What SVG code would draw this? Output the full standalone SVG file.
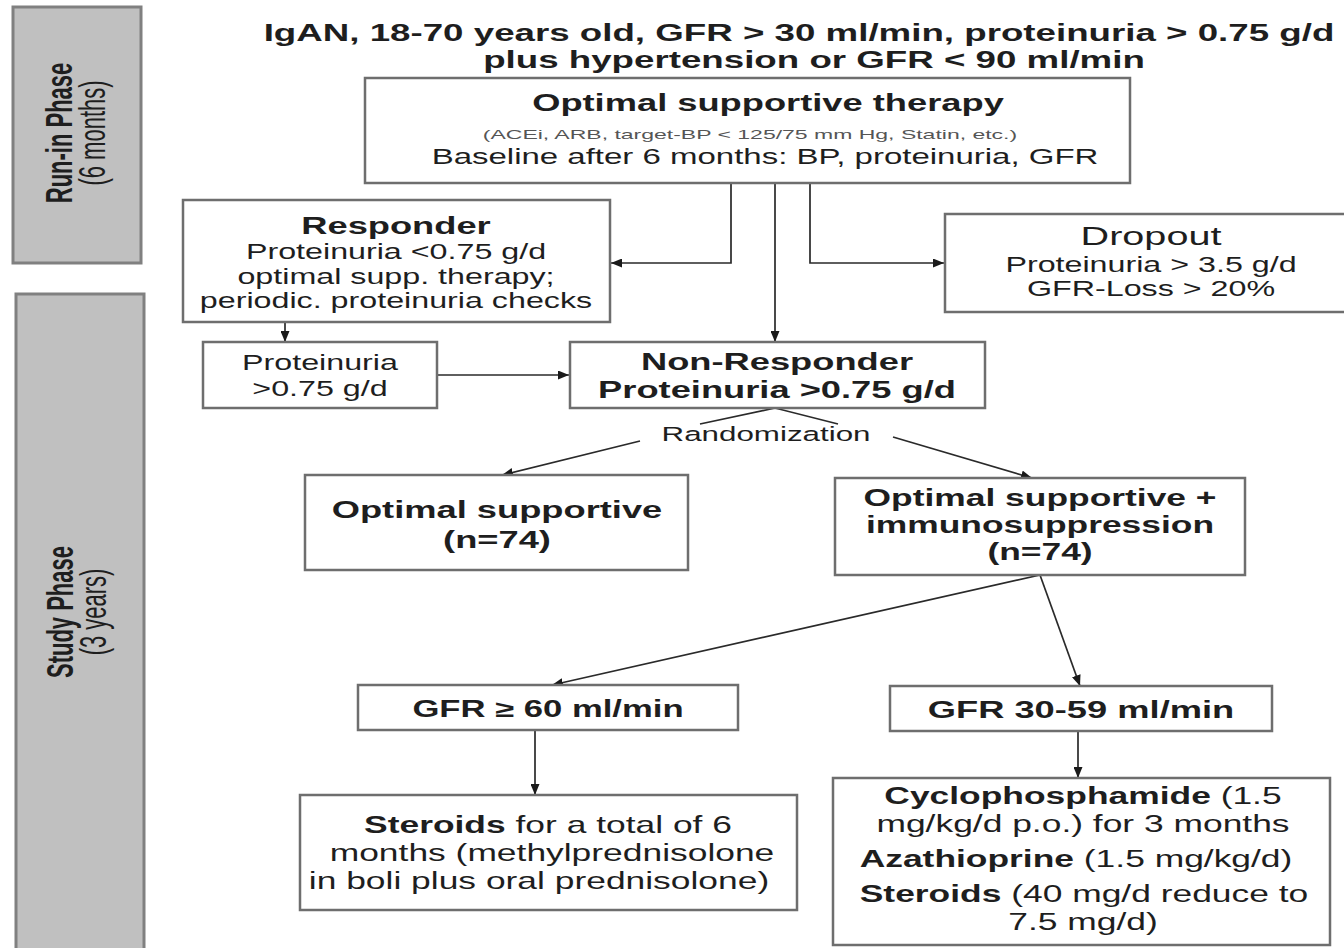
<svg xmlns="http://www.w3.org/2000/svg" width="1344" height="948" viewBox="0 0 1344 948">
<style>
.t{font-family:"Liberation Sans",Arial,sans-serif;text-anchor:middle;fill:#1e1e1e}
.b{font-weight:bold}
.s{fill:#555}
.box{fill:#fff;stroke:#6e6e6e;stroke-width:2.5}
.bar{fill:#c0c0c0;stroke:#808080;stroke-width:3}
.c{fill:none;stroke:#2a2a2a;stroke-width:1.7}
.a{marker-end:url(#ah)}
</style>
<defs>
<marker id="ah" markerUnits="userSpaceOnUse" markerWidth="11" markerHeight="9" viewBox="0 0 11 9" refX="11" refY="4.5" orient="auto">
<path d="M0,0 L11,4.5 L0,9 z" fill="#1a1a1a"/>
</marker>
</defs>
<rect width="1344" height="948" fill="#fff"/>

<g id="runin">
<rect class="bar" x="13" y="7" width="128" height="256"/>
<text class="t b" font-size="22" transform="translate(72,133) scale(1.65,1) rotate(-90)">Run-in Phase</text>
<text class="t" font-size="22" transform="translate(105,133) scale(1.65,1) rotate(-90)">(6 months)</text>
</g>
<g id="study">
<rect class="bar" x="16" y="294" width="128" height="660"/>
<text class="t b" font-size="22" transform="translate(73,612) scale(1.65,1) rotate(-90)">Study Phase</text>
<text class="t" font-size="22" transform="translate(106,612) scale(1.65,1) rotate(-90)">(3 years)</text>
</g>

<g id="title">
<text class="t b" font-size="24" transform="translate(799,41) scale(1.53,1)">IgAN, 18-70 years old, GFR &gt; 30 ml/min, proteinuria &gt; 0.75 g/d</text>
<text class="t b" font-size="24" transform="translate(814,68) scale(1.53,1)">plus hypertension or GFR &lt; 90 ml/min</text>
</g>

<g id="connectors">
<path class="c a" d="M731,183 V263 H611"/>
<path class="c a" d="M775,183 V342"/>
<path class="c a" d="M810,183 V263 H944"/>
<path class="c a" d="M285,322 V342"/>
<path class="c a" d="M437,375 H569"/>
<path class="c" d="M700,424 L775,408 L838,424"/>
<path class="c a" d="M640,441 L502,475"/>
<path class="c a" d="M893,437 L1032,478"/>
<path class="c a" d="M1040,575 L552,685"/>
<path class="c a" d="M1040,575 L1080,686"/>
<path class="c a" d="M535,730 V795"/>
<path class="c a" d="M1078,731 V778"/>
</g>

<g id="optimal-therapy">
<rect class="box" x="365" y="78" width="765" height="105"/>
<text class="t b" font-size="24.2" transform="translate(768,111) scale(1.5,1)">Optimal supportive therapy</text>
<text class="t s" font-size="13" transform="translate(750,139) scale(1.77,1)">(ACEi, ARB, target-BP &lt; 125/75 mm Hg, Statin, etc.)</text>
<text class="t" font-size="22" transform="translate(765,164) scale(1.5,1)">Baseline after 6 months: BP, proteinuria, GFR</text>
</g>

<g id="responder">
<rect class="box" x="183" y="200" width="427" height="122"/>
<text class="t b" font-size="24.2" transform="translate(396,234) scale(1.5,1)">Responder</text>
<text class="t" font-size="21.5" transform="translate(396,259) scale(1.5,1)">Proteinuria &lt;0.75 g/d</text>
<text class="t" font-size="21.5" transform="translate(396,284) scale(1.5,1)">optimal supp. therapy;</text>
<text class="t" font-size="21.5" transform="translate(396,308) scale(1.5,1)">periodic. proteinuria checks</text>
</g>

<g id="dropout">
<rect class="box" x="945" y="214" width="410" height="98"/>
<text class="t" font-size="26.4" transform="translate(1151,245) scale(1.5,1)">Dropout</text>
<text class="t" font-size="21.5" transform="translate(1151,272) scale(1.5,1)">Proteinuria &gt; 3.5 g/d</text>
<text class="t" font-size="21.5" transform="translate(1151,296) scale(1.5,1)">GFR-Loss &gt; 20%</text>
</g>

<g id="proteinuria">
<rect class="box" x="203" y="342" width="234" height="66"/>
<text class="t" font-size="21.5" transform="translate(320,370) scale(1.5,1)">Proteinuria</text>
<text class="t" font-size="21.5" transform="translate(320,396) scale(1.5,1)">&gt;0.75 g/d</text>
</g>

<g id="non-responder">
<rect class="box" x="570" y="342" width="415" height="66"/>
<text class="t b" font-size="24.2" transform="translate(777,370) scale(1.5,1)">Non-Responder</text>
<text class="t b" font-size="24.2" transform="translate(777,398) scale(1.5,1)">Proteinuria &gt;0.75 g/d</text>
</g>

<g id="randomization">
<text class="t" font-size="20.9" transform="translate(766,441) scale(1.5,1)">Randomization</text>
</g>

<g id="optimal-supportive">
<rect class="box" x="305" y="475" width="383" height="95"/>
<text class="t b" font-size="24.2" transform="translate(497,518) scale(1.5,1)">Optimal supportive</text>
<text class="t b" font-size="24.2" transform="translate(497,548) scale(1.5,1)">(n=74)</text>
</g>

<g id="immunosuppression">
<rect class="box" x="835" y="478" width="410" height="97"/>
<text class="t b" font-size="23.6" transform="translate(1040,506) scale(1.5,1)">Optimal supportive +</text>
<text class="t b" font-size="23.6" transform="translate(1040,533) scale(1.5,1)">immunosuppression</text>
<text class="t b" font-size="23.6" transform="translate(1040,560) scale(1.5,1)">(n=74)</text>
</g>

<g id="gfr60">
<rect class="box" x="358" y="685" width="380" height="45"/>
<text class="t b" font-size="23.1" transform="translate(548,717) scale(1.5,1)">GFR ≥ 60 ml/min</text>
</g>

<g id="gfr3059">
<rect class="box" x="890" y="686" width="382" height="45"/>
<text class="t b" font-size="24.2" transform="translate(1081,718) scale(1.5,1)">GFR 30-59 ml/min</text>
</g>

<g id="steroids">
<rect class="box" x="300" y="795" width="497" height="115"/>
<text class="t" font-size="23.6" transform="translate(548,833) scale(1.5,1)"><tspan class="b">Steroids</tspan> for a total of 6</text>
<text class="t" font-size="23.6" transform="translate(552,861) scale(1.5,1)">months (methylprednisolone</text>
<text class="t" font-size="23.6" transform="translate(539,889) scale(1.5,1)">in boli plus oral prednisolone)</text>
</g>

<g id="cyclophosphamide">
<rect class="box" x="833" y="778" width="497" height="167"/>
<text class="t" font-size="23.6" transform="translate(1083,804) scale(1.5,1)"><tspan class="b">Cyclophosphamide</tspan> (1.5</text>
<text class="t" font-size="23.6" transform="translate(1083,832) scale(1.5,1)">mg/kg/d p.o.) for 3 months</text>
<text class="t" font-size="23.6" transform="translate(1076,867) scale(1.5,1)"><tspan class="b">Azathioprine</tspan> (1.5 mg/kg/d)</text>
<text class="t" font-size="23.6" transform="translate(1084,902) scale(1.5,1)"><tspan class="b">Steroids</tspan> (40 mg/d reduce to</text>
<text class="t" font-size="23.6" transform="translate(1083,930) scale(1.5,1)">7.5 mg/d)</text>
</g>
</svg>
